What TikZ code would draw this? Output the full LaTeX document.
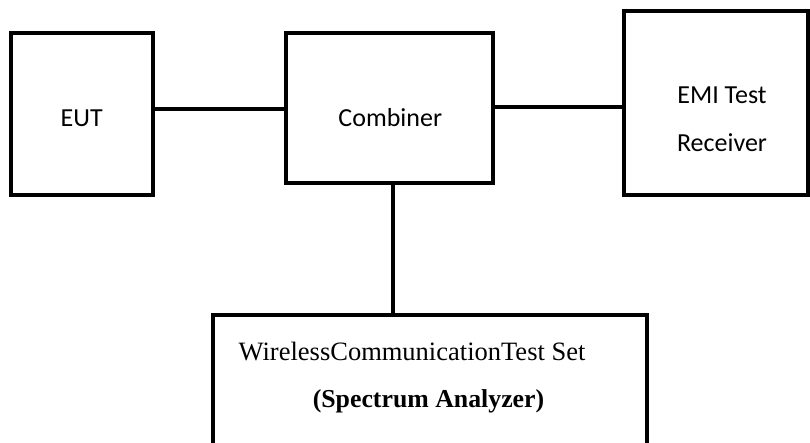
\documentclass[tikz,border=0pt]{standalone}
\usepackage{fontspec}
\setmainfont{Liberation Serif}
\newfontfamily\calib{Carlito}
\begin{document}
\begin{tikzpicture}[x=1pt, y=-1pt,
  blk/.style={draw, line width=4.4pt, rectangle, inner sep=0pt},
  wire/.style={line width=3.8pt},
  lbl/.style={anchor=base, inner sep=0pt, font=\calib\fontsize{26}{30}\selectfont},
  tlbl/.style={anchor=base, inner sep=0pt, font=\fontsize{26.5}{30}\selectfont}]
\clip (0, 0) rectangle (810, 443);
\node[blk, minimum width=142pt, minimum height=162pt] (eut)  at (81.7, 114) {};
\node[blk, minimum width=207pt, minimum height=150pt] (comb) at (389.5, 108) {};
\node[blk, minimum width=184pt, minimum height=184pt] (emi)  at (716, 103) {};
\node[blk, minimum width=434pt, minimum height=134pt] (wcts) at (430, 382) {};
\node[lbl] (eut-t)  at (81.7, 126.5) {EUT};
\node[lbl] (comb-t) at (390.3, 126.5) {Combiner};
\node[lbl] (emi-t1) at (722, 104) {EMI Test};
\node[lbl] (emi-t2) at (722, 151.5) {Receiver};
\node[tlbl] (wcts-t1) at (412, 360) {WirelessCommunicationTest Set};
\node[tlbl, font=\bfseries\fontsize{25.8}{30}\selectfont] (wcts-t2) at (428.5, 407) {(Spectrum Analyzer)};
\draw[wire] ([yshift=5.3pt]eut.east) -- ([yshift=5.3pt]eut.east -| comb.west);
\draw[wire] ([yshift=1pt]comb.east) -- ([yshift=1pt]comb.east -| emi.west);
\draw[wire] ([xshift=3.2pt]comb.south) -- ([xshift=3.2pt]comb.south |- wcts.north);
\end{tikzpicture}
\end{document}
